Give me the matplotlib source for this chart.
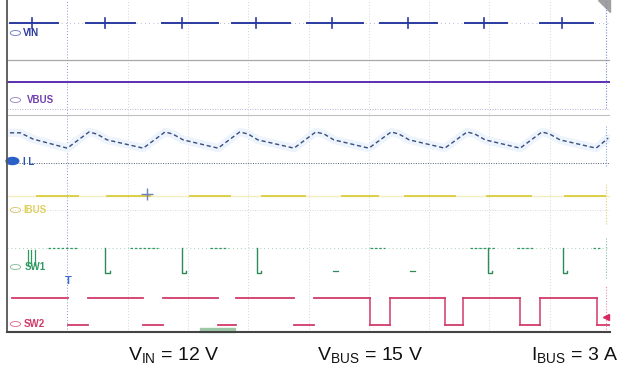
import numpy as np
import matplotlib
matplotlib.use("Agg")
import matplotlib.pyplot as plt
from matplotlib.patches import Ellipse, Polygon, Rectangle

plt.rcParams['font.family'] = ['Liberation Sans', 'DejaVu Sans']
plt.rcParams['mathtext.fontset'] = 'custom'
plt.rcParams['mathtext.rm'] = 'Liberation Sans'

# ---- scope data, in screen divisions (10 x 8) ----
# VIN: bright segments, tick positions, level
vin_level = 7.45
vin_segs = [(0.05, 0.85), (1.31, 2.12), (2.57, 3.50), (3.73, 4.69),
            (4.98, 5.90), (6.19, 7.13), (7.60, 8.29), (8.84, 9.72)]
vin_ticks = [0.41, 1.63, 2.90, 4.13, 5.39, 6.65, 7.91, 9.20]

vbus_level = 6.02

# inductor current vertices
il_t = [0.05, 0.22, 0.43, 1.00,
        1.36, 1.49, 1.66, 2.26,
        2.62, 2.75, 2.92, 3.50,
        3.86, 4.00, 4.16, 4.76,
        5.12, 5.26, 5.42, 6.00,
        6.37, 6.50, 6.67, 7.26,
        7.63, 7.76, 7.93, 8.51,
        8.87, 9.00, 9.17, 9.77, 9.97]
il_v = [4.80, 4.80, 4.65, 4.43,
        4.82, 4.77, 4.63, 4.43,
        4.82, 4.77, 4.63, 4.43,
        4.82, 4.77, 4.63, 4.43,
        4.82, 4.77, 4.63, 4.43,
        4.82, 4.77, 4.63, 4.43,
        4.82, 4.77, 4.63, 4.43,
        4.82, 4.77, 4.63, 4.43, 4.67]
il_ref = 4.07

ibus_level = 3.28
ibus_segs = [(0.50, 1.18), (1.66, 2.37), (3.03, 3.70), (4.23, 4.94),
             (5.56, 6.15), (6.60, 7.43), (7.96, 8.69), (9.25, 9.92)]

sw1_high = 2.02
sw1_low = 1.42
sw1_spikes = [1.63, 2.90, 4.15, 7.98, 9.22]
sw1_marks = [5.41, 6.68]
sw1_segs = [(0.68, 1.18), (2.04, 2.50), (3.37, 3.67), (6.02, 6.27),
            (7.68, 8.10), (8.46, 8.72), (9.72, 9.85)]

sw2_high = 0.82
sw2_low = 0.17
sw2_edges = [0.08, 1.01, 1.34, 2.26, 2.59, 3.50, 3.80, 4.76, 5.09,
             6.02, 6.35, 7.26, 7.56, 8.51, 8.84, 9.78, 10.0]

conditions = [r"V$_{\mathrm{IN}}$ = 12 V", r"V$_{\mathrm{BUS}}$ = 15 V", r"I$_{\mathrm{BUS}}$ = 3 A"]
cond_x = [174, 370, 575]

fig = plt.figure(figsize=(6.29, 3.69), dpi=100)
ax = fig.add_axes([7 / 629, 1 - 332 / 369, 603 / 629, 332 / 369])
ax.set_xlim(0, 10)
ax.set_ylim(0, 8)
ax.set_xticks([])
ax.set_yticks([])
for s in ['top', 'right']:
    ax.spines[s].set_visible(False)
ax.spines['left'].set_color('#555555')
ax.spines['left'].set_linewidth(1.3)
ax.spines['bottom'].set_color('#444444')
ax.spines['bottom'].set_linewidth(1.5)

# grid
for gx in range(1, 10):
    ax.axvline(gx, color='#8a98c0' if gx == 1 else '#d4d4de', lw=0.7,
               ls=(0, (1, 2)), zorder=0)
ax.axhline(6.55, color='#a8a8a8', lw=0.9, zorder=0)
ax.axhline(5.23, color='#c0c0c0', lw=0.8, zorder=0)
ax.axhline(5.37, color='#a098c8', lw=0.6, ls=(0, (1, 2)), zorder=0)
ax.axhline(il_ref, color='#50607a', lw=0.7, ls=(0, (1, 1.5)), zorder=0)
ax.axhline(2.94, color='#cccccc', lw=0.6, ls=(0, (1, 2)), zorder=0)

# VIN
ax.axhline(vin_level, color='#5a66b8', lw=0.6, ls=(0, (1, 4)), alpha=0.6)
for a, b in vin_segs:
    ax.plot([a, b], [vin_level, vin_level], color='#2b3aa0', lw=1.4)
for t in vin_ticks:
    ax.plot([t, t], [vin_level - 0.12, vin_level + 0.12], color='#2b3aa0', lw=1.2)

# VBUS
ax.axhline(vbus_level, color='#5a2fb0', lw=1.4)

# IL
ax.plot(il_t, il_v, color='#edf4fb', lw=6, solid_capstyle='round', zorder=1)
ax.plot(il_t, il_v, color='#3a4c82', lw=1.0, ls=(0, (3, 2)), zorder=2)

# IBUS
ax.axhline(ibus_level, color='#f2eec0', lw=1.0, zorder=1)
for a, b in ibus_segs:
    ax.plot([a, b], [ibus_level, ibus_level], color='#dcd048', lw=1.4, zorder=2)
ax.plot([2.32], [ibus_level + 0.05], marker='+', ms=8, color='#7080b8', mew=1)

# SW1
ax.axhline(sw1_high, color='#a0d0b4', lw=0.7, ls=(0, (1, 3)))
for a, b in sw1_segs:
    ax.plot([a, b], [sw1_high, sw1_high], color='#2f9a60', lw=0.9, ls=(0, (2, 1.5)))
for t in sw1_spikes:
    ax.plot([t, t, t + 0.07, t + 0.07], [sw1_high, sw1_low, sw1_low, sw1_low + 0.06],
            color='#2f8a5a', lw=1.0)
for t in sw1_marks:
    ax.plot([t, t + 0.08], [sw1_low + 0.05, sw1_low + 0.05], color='#2f8a5a', lw=0.9)
for t in [0.35, 0.40, 0.46]:
    ax.plot([t, t], [1.98, 1.61], color='#2f9a60', lw=0.9)

# SW2
for i in range(len(sw2_edges) - 1):
    lvl = sw2_high if i % 2 == 0 else sw2_low
    ax.plot([sw2_edges[i], sw2_edges[i + 1]], [lvl, lvl], color='#d23a6a', lw=1.3)
    if sw2_edges[i + 1] >= 6.0 and sw2_edges[i + 1] < 10:
        ax.plot([sw2_edges[i + 1]] * 2, [sw2_low, sw2_high], color='#d23a6a', lw=1.1)

# trigger marker
ax.text(1.01, 1.22, 'T', color='#3a6ad0', fontsize=8, fontweight='bold',
        ha='center', va='center')

# channel labels
lab = dict(fontsize=7, fontweight='bold', va='center', ha='left')
ax.text(0.27, (332 - 33) / 41.5, 'VIN', color='#2b3aa0', **lab)
ax.text(0.33, (332 - 100) / 41.5, 'VBUS', color='#7040b0', **lab)
ax.text(0.27, (332 - 162) / 41.5, 'I L', color='#2c55b0', **lab)
ax.text(0.27, (332 - 210) / 41.5, 'IBUS', color='#e0d060', **lab)
ax.text(0.30, (332 - 267) / 41.5, 'SW1', color='#2f9a60', **lab)
ax.text(0.27, (332 - 324) / 41.5, 'SW2', color='#d03a6a', **lab)
for y, c in [(33, '#7a86c8'), (100, '#a090c8'), (210, '#d8c878'),
             (267, '#90c0a0'), (324, '#e07898')]:
    ax.add_patch(Ellipse((0.14, (332 - y) / 41.5), 0.17, 0.12, fill=False,
                         ec=c, lw=0.7, clip_on=False))
ax.add_patch(Ellipse((0.09, (332 - 161) / 41.5), 0.21, 0.17, color='#2a60c8',
                     clip_on=False))

# right-edge markers and corner
ax.add_patch(Polygon([[9.80, 8], [10.0, 8], [10.0, 7.72]], closed=True,
                     color='#a0a0a0', clip_on=False))
for y0, y1, c in [(5.4, 8.0, '#7a86c8'), (4.0, 5.0, '#8aa8d8'),
                  (2.6, 3.6, '#dcd070'), (1.3, 2.3, '#80c098'), (0.0, 1.1, '#e890a8')]:
    ax.plot([9.93, 9.93], [y0, y1], color=c, lw=0.8, ls=(0, (1, 1.5)), clip_on=False)
ax.plot([9.93], [0.37], marker='<', ms=5, color='#d82860', clip_on=False)
ax.add_patch(Rectangle((3.20, 0.0), 0.58, 0.09, color='#9cc8a8', clip_on=False))

# operating conditions
for txt, x in zip(conditions, cond_x):
    fig.text(x / 629, 1 - 356 / 369, txt, fontsize=14, ha='center', va='center',
             color='#111111')

fig.savefig('out.png', dpi=100)
